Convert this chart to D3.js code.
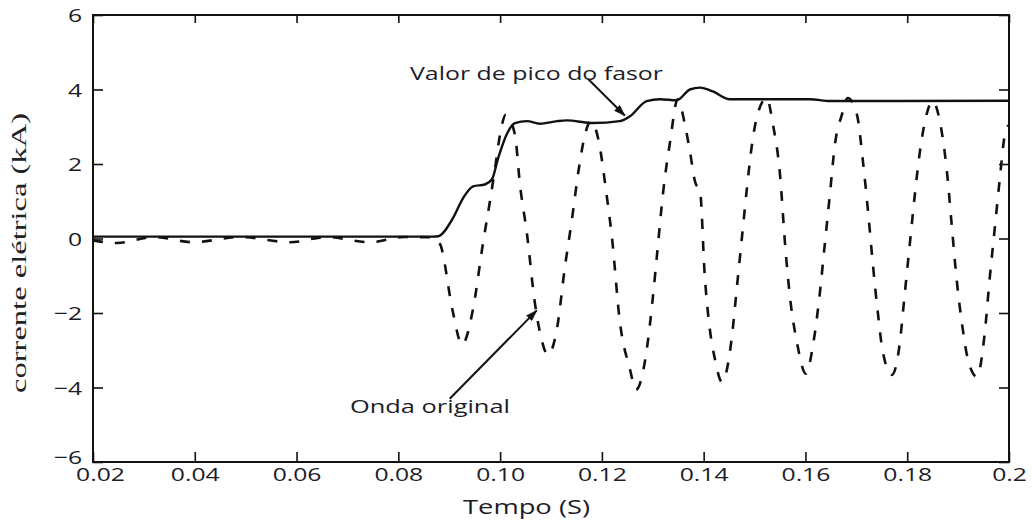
<!DOCTYPE html>
<html>
<head>
    <meta charset="utf-8">
    <title>Valor de pico do fasor</title>
    <script src="https://cdn.jsdelivr.net/npm/d3@7"></script>
    <style>
        body { margin: 0; background: #fff; }
        .lbl { font-family: "Open Sans", sans-serif; fill: #1c1c28; }
    </style>
</head>
<body>
<svg id="chart" width="1032" height="522"></svg>
<script>
    // axis ticks
    const xTicks = [0.02, 0.04, 0.06, 0.08, 0.10, 0.12, 0.14, 0.16, 0.18, 0.2];
    const xTickLabels = ["0.02", "0.04", "0.06", "0.08", "0.10", "0.12", "0.14", "0.16", "0.18", "0.2"];
    const yTicks = [-6, -4, -2, 0, 2, 4, 6];
    const yTickLabels = ["\u22126", "\u22124", "\u22122", "0", "2", "4", "6"];

    // phasor peak value [t (s), kA]
    const fasor = [
        [0.02, 0.05], [0.0868, 0.05], [0.0878, 0.06], [0.0907, 0.54], [0.0927, 1.08], [0.0947, 1.40],
        [0.0970, 1.45], [0.0984, 1.59], [0.0996, 2.15], [0.1013, 2.80], [0.1029, 3.10], [0.1053, 3.15],
        [0.1078, 3.08], [0.1112, 3.15], [0.1131, 3.17], [0.1182, 3.10], [0.1235, 3.15], [0.1255, 3.28],
        [0.1288, 3.69], [0.1314, 3.74], [0.1347, 3.71], [0.1373, 4.00], [0.1393, 4.05], [0.1418, 3.95],
        [0.1451, 3.74], [0.1609, 3.74], [0.1648, 3.69], [0.2, 3.70]
    ];

    // original waveform [t (s), kA]
    const onda = [
        [0.02, -0.05], [0.0247, -0.12], [0.032, 0.04], [0.0396, -0.10], [0.049, 0.04], [0.0587, -0.10],
        [0.066, 0.04], [0.0744, -0.10], [0.081, 0.04], [0.0868, 0.03], [0.0882, -0.15], [0.0907, -1.96],
        [0.0925, -2.85], [0.0947, -1.88], [0.0966, -0.16], [0.0980, 1.00], [0.0990, 1.88], [0.1000, 2.80],
        [0.1011, 3.32], [0.1029, 2.80], [0.1039, 1.45], [0.1053, 0.10], [0.1068, -1.70], [0.1078, -2.50],
        [0.1094, -3.12], [0.1112, -2.40], [0.1127, -0.80], [0.1141, 0.50], [0.1155, 1.90], [0.1167, 2.80],
        [0.1178, 3.15], [0.1194, 2.60], [0.1208, 1.30], [0.1220, 0.00], [0.1235, -2.20], [0.1255, -3.50],
        [0.1267, -4.06], [0.1288, -3.00], [0.1300, -1.60], [0.1310, -0.20], [0.1320, 1.20], [0.1334, 2.60],
        [0.1349, 3.74], [0.1363, 3.07], [0.1373, 2.34], [0.1383, 1.53], [0.1393, 1.26], [0.1402, -0.97],
        [0.1412, -2.42], [0.1422, -3.23], [0.1436, -3.85], [0.1455, -2.69], [0.1465, -1.35], [0.1475, 0.00],
        [0.1485, 1.35], [0.1495, 2.53], [0.1506, 3.34], [0.1524, 3.77], [0.1536, 3.07], [0.1550, 1.72],
        [0.1560, -0.16], [0.1569, -1.50], [0.1583, -2.77], [0.1601, -3.63], [0.1615, -2.85], [0.1628, -1.50],
        [0.1638, -0.16], [0.1648, 1.18], [0.1658, 2.53], [0.1672, 3.34], [0.1683, 3.77], [0.1701, 3.34],
        [0.1713, 2.07], [0.1723, 0.73], [0.1732, -0.62], [0.1742, -1.96], [0.1752, -3.04], [0.1770, -3.66],
        [0.1785, -2.85], [0.1795, -1.50], [0.1805, -0.16], [0.1815, 1.18], [0.1825, 2.34], [0.1835, 3.15],
        [0.1850, 3.69], [0.1864, 3.15], [0.1878, 1.80], [0.1888, 0.27], [0.1897, -1.08], [0.1909, -2.42],
        [0.1919, -3.23], [0.1937, -3.71], [0.1952, -2.58], [0.1962, -1.08], [0.1972, 0.27], [0.1982, 1.61],
        [0.1992, 2.80], [0.2, 3.05]
    ];

    // annotations: text anchor and arrow (from -> to), in data units
    const notas = [
        { texto: "Valor de pico do fasor", t: 0.0823, v: 4.25, len: 253, de: [0.1173, 4.28], para: [0.1245, 3.30] },
        { texto: "Onda original", t: 0.0705, v: -4.68, len: 160, de: [0.0901, -4.30], para: [0.1072, -1.93] }
    ];

    const margin = { top: 15, right: 23, bottom: 60, left: 93 };
    const W = 1032, H = 522;
    const width = W - margin.left - margin.right;
    const height = H - margin.top - margin.bottom;
    const sx = 1.3; // text looks horizontally stretched in the source

    const svg = d3.select("#chart");
    const g = svg.append("g").attr("transform", `translate(${margin.left},${margin.top})`);

    const x = d3.scaleLinear().domain([0.02, 0.2]).range([0, width]);
    const y = d3.scaleLinear().domain([-6, 6]).range([height, 0]);

    svg.append("defs").append("marker")
        .attr("id", "seta")
        .attr("viewBox", "0 0 12 8")
        .attr("refX", 11).attr("refY", 4)
        .attr("markerWidth", 12).attr("markerHeight", 8)
        .attr("markerUnits", "userSpaceOnUse")
        .attr("orient", "auto")
        .append("path")
        .attr("d", "M0,0 L12,4 L0,8 z")
        .attr("fill", "#111");

    // axes
    const xAxis = g.append("g")
        .attr("transform", `translate(0,${height})`)
        .call(d3.axisBottom(x).tickValues(xTicks)
            .tickFormat((d, i) => xTickLabels[i])
            .tickSizeInner(-10).tickSizeOuter(0).tickPadding(6));
    const yAxis = g.append("g")
        .call(d3.axisLeft(y).tickValues(yTicks)
            .tickFormat((d, i) => yTickLabels[i])
            .tickSizeInner(-10).tickSizeOuter(0).tickPadding(0));
    g.append("g")
        .call(d3.axisTop(x).tickValues(xTicks).tickFormat("").tickSizeInner(-8).tickSizeOuter(0));
    g.append("g")
        .attr("transform", `translate(${width},0)`)
        .call(d3.axisRight(y).tickValues(yTicks).tickFormat("").tickSizeInner(-10).tickSizeOuter(0));

    g.selectAll(".domain").remove();
    g.selectAll(".tick line").attr("stroke", "#111").attr("stroke-width", 1.6);

    xAxis.selectAll("text")
        .attr("class", "lbl")
        .attr("font-size", 19)
        .attr("transform", `scale(${sx},1)`);
    // first label sits a little right of its tick, clear of the -6
    xAxis.selectAll(".tick text").filter(d => d === 0.02).attr("x", 7 / sx);

    yAxis.selectAll("text")
        .attr("class", "lbl")
        .attr("font-size", 19)
        .attr("x", -11 / sx)
        .attr("dy", "0.36em")
        .attr("transform", `scale(${sx},1)`);
    yAxis.selectAll(".tick text").filter(d => d === -6).attr("dy", "0.06em");

    // frame
    g.append("rect")
        .attr("width", width).attr("height", height)
        .attr("fill", "none").attr("stroke", "#111").attr("stroke-width", 2);

    const line = d3.line()
        .x(d => x(d[0]))
        .y(d => y(d[1]))
        .curve(d3.curveMonotoneX);

    g.append("path")
        .datum(onda)
        .attr("fill", "none")
        .attr("stroke", "#111")
        .attr("stroke-width", 2.6)
        .attr("stroke-dasharray", "10,12")
        .attr("d", line);

    g.append("path")
        .datum(fasor)
        .attr("fill", "none")
        .attr("stroke", "#111")
        .attr("stroke-width", 2.4)
        .attr("d", line);

    // annotations
    notas.forEach(n => {
        g.append("line")
            .attr("x1", x(n.de[0])).attr("y1", y(n.de[1]))
            .attr("x2", x(n.para[0])).attr("y2", y(n.para[1]))
            .attr("stroke", "#111").attr("stroke-width", 2)
            .attr("marker-end", "url(#seta)");
        g.append("text")
            .attr("class", "lbl")
            .attr("x", x(n.t)).attr("y", y(n.v))
            .attr("font-size", 19)
            .attr("textLength", n.len)
            .attr("lengthAdjust", "spacingAndGlyphs")
            .text(n.texto);
    });

    // axis titles
    svg.append("text")
        .attr("class", "lbl")
        .attr("x", 463).attr("y", 514)
        .attr("font-size", 20)
        .attr("textLength", 127)
        .attr("lengthAdjust", "spacingAndGlyphs")
        .text("Tempo (S)");

    svg.append("text")
        .attr("transform", "translate(26,253) rotate(-90)")
        .attr("text-anchor", "middle")
        .attr("font-family", "'Liberation Serif', serif")
        .attr("font-size", 20)
        .attr("fill", "#222")
        .attr("textLength", 280)
        .attr("lengthAdjust", "spacingAndGlyphs")
        .text("corrente elétrica (kA)");
</script>
</body>
</html>
